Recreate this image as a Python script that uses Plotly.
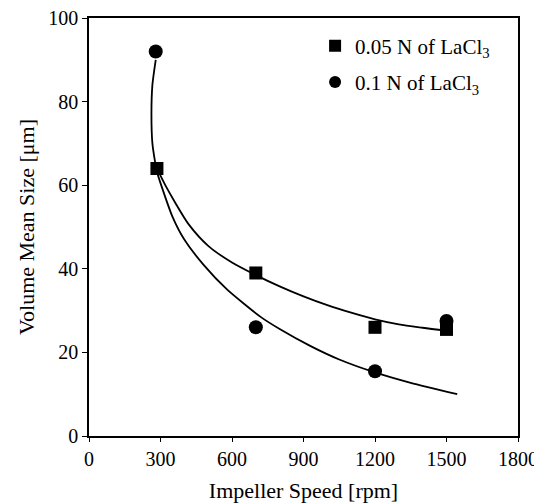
import plotly.graph_objects as go

# Measured points
speed_sq = [285, 700, 1200, 1500]
size_sq = [64, 39, 26, 25.5]
speed_ci = [280, 700, 1200, 1500]
size_ci = [92, 26, 15.5, 27.5]

# Fitted curves
fit_sq_x = [285, 320, 360, 420, 500, 600, 700, 800, 900, 1000, 1100, 1200, 1300, 1400, 1500]
fit_sq_y = [64, 60, 56, 50.5, 45.5, 41.5, 38.5, 35.8, 33.4, 31.3, 29.5, 27.9, 26.7, 25.9, 25.2]
fit_ci_x = [280, 266, 262, 266, 276, 285, 300, 350, 400, 480, 580, 720, 800, 930, 1050, 1200, 1350, 1545]
fit_ci_y = [90, 84, 77, 70, 66, 63.2, 60.5, 52.5, 47, 41, 35, 28.5, 25.6, 21.5, 18.3, 15.2, 12.7, 10]

font = "Liberation Serif"

fig = go.Figure()
fig.add_trace(go.Scatter(x=fit_sq_x, y=fit_sq_y, mode="lines",
                         line=dict(color="black", width=1.8, shape="spline", smoothing=0.8),
                         showlegend=False, hoverinfo="skip"))
fig.add_trace(go.Scatter(x=fit_ci_x, y=fit_ci_y, mode="lines",
                         line=dict(color="black", width=1.8, shape="spline", smoothing=0.6),
                         showlegend=False, hoverinfo="skip"))
fig.add_trace(go.Scatter(x=speed_sq, y=size_sq, mode="markers", name="0.05 N of LaCl<sub>3</sub>",
                         legendgroup="a", marker=dict(symbol="square", size=13, color="black")))
fig.add_trace(go.Scatter(x=speed_ci, y=size_ci, mode="markers", name="0.1 N of LaCl<sub>3</sub>",
                         legendgroup="b", marker=dict(symbol="circle", size=14, color="black")))

fig.update_layout(
    width=534, height=495,
    margin=dict(l=81, r=24, t=10, b=67),
    paper_bgcolor="white", plot_bgcolor="white",
    font=dict(family=font, size=20, color="black"),
    legend=dict(x=0.527, y=0.982, xanchor="left", yanchor="top", bgcolor="rgba(0,0,0,0)",
                font=dict(family=font, size=21), tracegroupgap=6, itemsizing="constant"),
    xaxis=dict(range=[0, 1800], tickvals=[0, 300, 600, 900, 1200, 1500, 1800], automargin=False,
               ticklabeloverflow="allow",
               showgrid=False, zeroline=False, showline=True, linecolor="black", linewidth=1.5,
               mirror=True, ticks="outside", ticklen=4, tickcolor="black",
               title=dict(text="Impeller Speed [rpm]", font=dict(family=font, size=22), standoff=16)),
    yaxis=dict(range=[0, 100], tickvals=[0, 20, 40, 60, 80, 100], automargin=False,
               ticklabeloverflow="allow",
               showgrid=False, zeroline=False, showline=True, linecolor="black", linewidth=1.5,
               mirror=True, ticks="outside", ticklen=5, tickcolor="black",
               title=dict(text="Volume Mean Size [μm]", font=dict(family=font, size=22), standoff=8)),
)

fig.write_html("out.html")
